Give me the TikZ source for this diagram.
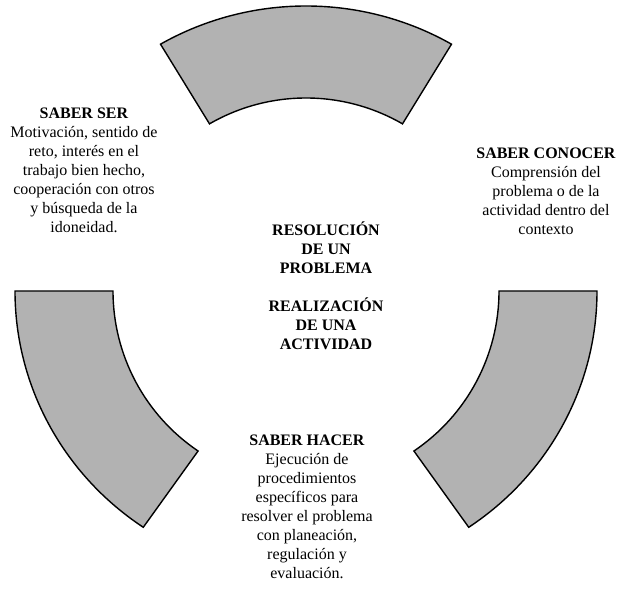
\documentclass[tikz,border=0pt]{standalone}
\usepackage{fontspec}
\setmainfont{Liberation Serif}
\usetikzlibrary{calc}
\tikzstyle{sector} = [draw=black, line width=1.4pt, fill=black!30, line join=miter]
\tikzstyle{skill} = [align=center, font=\fontsize{16}{19}\selectfont, inner sep=0pt]
\tikzstyle{core} = [align=center, font=\fontsize{16}{19}\selectfont\bfseries, inner sep=0pt]

\begin{document}
\begin{tikzpicture}[x=1pt, y=1pt]
	\useasboundingbox (0,0) rectangle (623,589);
	\coordinate (c) at (306,298);
	% three pieces of the ring
	\foreach \a/\b in {60/120, 180/236, 304/360}
		\draw[sector] ($(c)+({291*cos(\a)},{285*sin(\a)})$) arc[start angle=\a, end angle=\b, x radius=291, y radius=285]
			-- ($(c)+({193*cos(\b)},{193*sin(\b)})$) arc[start angle=\b, end angle=\a, radius=193] -- cycle;
	\node (ser) [skill] at (84,419) {\textbf{SABER SER}\\Motivación, sentido de\\reto, interés en el\\trabajo bien hecho,\\cooperación con otros\\y búsqueda de la\\idoneidad.};
	\node (conocer) [skill] at (546,398) {\textbf{SABER CONOCER}\\Comprensión del\\problema o de la\\actividad dentro del\\contexto};
	\node (centro) [core] at (326,303) {RESOLUCIÓN\\DE UN\\PROBLEMA\\[19pt]REALIZACIÓN\\DE UNA\\ACTIVIDAD};
	\node (hacer) [skill] at (307,82) {\textbf{SABER HACER}\\Ejecución de\\procedimientos\\específicos para\\resolver el problema\\con planeación,\\regulación y\\evaluación.};
\end{tikzpicture}
\end{document}
